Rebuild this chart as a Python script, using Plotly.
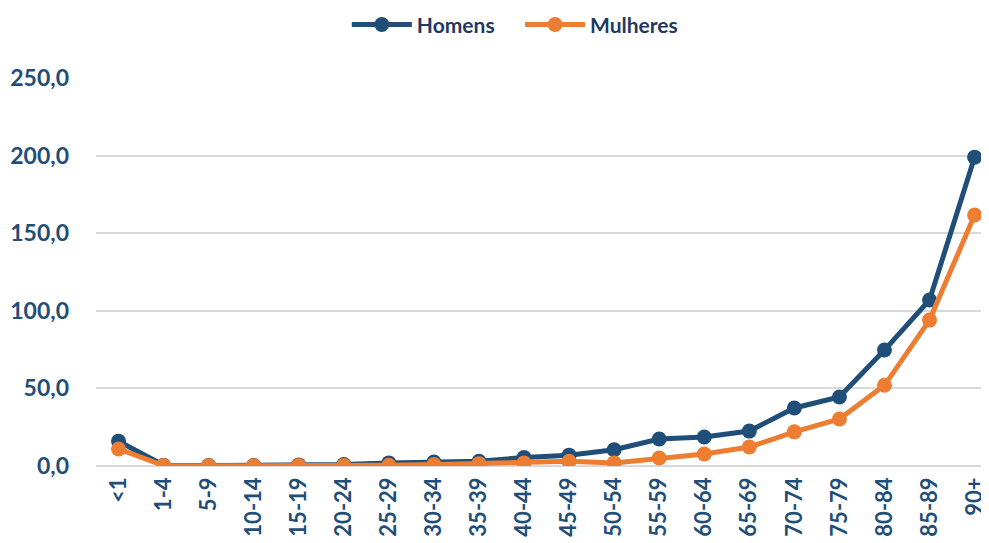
import plotly.graph_objects as go

categories = ["<1", "1-4", "5-9", "10-14", "15-19", "20-24", "25-29", "30-34", "35-39",
              "40-44", "45-49", "50-54", "55-59", "60-64", "65-69", "70-74", "75-79",
              "80-84", "85-89", "90+"]
homens = [16.0, 0.5, 0.3, 0.3, 0.7, 1.0, 2.0, 2.5, 3.0, 5.5, 7.0, 10.5, 17.4, 18.7,
          22.5, 37.4, 44.5, 74.7, 107.0, 199.0]
mulheres = [11.0, 0.3, 0.1, 0.1, 0.3, 0.4, 0.5, 1.0, 1.5, 2.0, 3.0, 2.0, 5.2, 7.7,
            12.2, 22.0, 30.3, 52.0, 94.0, 161.7]
series_names = ["Homens", "Mulheres"]

blue = "#1F4E79"
orange = "#ED7D31"
font_family = "Lato, 'Open Sans', sans-serif"

fig = go.Figure()
fig.add_trace(go.Scatter(x=categories, y=homens, name=series_names[0] + "    ", mode="lines+markers",
                         line=dict(color=blue, width=5), marker=dict(size=15, color=blue)))
fig.add_trace(go.Scatter(x=categories, y=mulheres, name=series_names[1], mode="lines+markers",
                         line=dict(color=orange, width=5), marker=dict(size=15, color=orange)))

fig.update_layout(
    width=981, height=535,
    margin=dict(l=88, r=0, t=70, b=77, autoexpand=False),
    plot_bgcolor="white", paper_bgcolor="white",
    separators=",.",
    font=dict(family=font_family, color=blue, size=18),
    legend=dict(orientation="h", x=0.469, xanchor="center", y=1.137, yanchor="middle",
                font=dict(size=21, color="#1F3864", weight="bold"),
                itemwidth=60, traceorder="normal"),
    showlegend=True,
)
fig.update_xaxes(type="category", range=[-0.5, 19.32], tickangle=-90, automargin=False,
                 tickfont=dict(size=22, color=blue, weight="bold"),
                 showgrid=False, showline=False, ticks="", ticklabelstandoff=6)
fig.update_yaxes(range=[0, 250], dtick=50, tickformat=".1f", automargin=False,
                 tickfont=dict(size=23, color=blue, weight="bold"),
                 showgrid=True, gridcolor="#D9D9D9", gridwidth=2,
                 zeroline=True, zerolinecolor="#D9D9D9", zerolinewidth=2,
                 ticks="", ticklabelstandoff=26)

fig.write_html("out.html")
